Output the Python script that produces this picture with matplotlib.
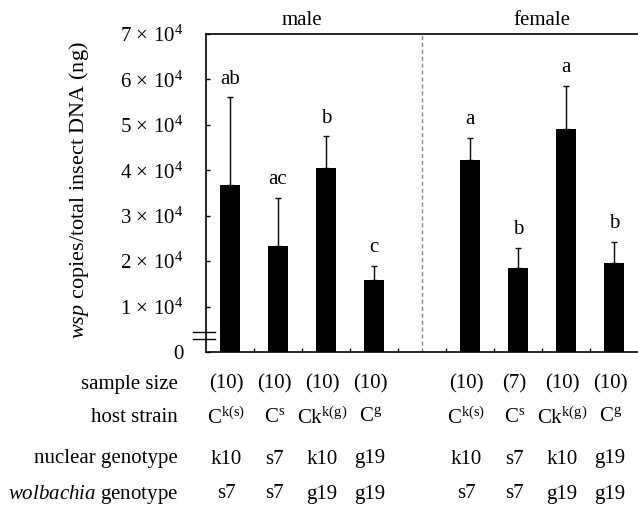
import numpy as np
import matplotlib
matplotlib.use('Agg')
import matplotlib.pyplot as plt
import matplotlib.transforms as mtransforms

plt.rcParams['font.family'] = 'Liberation Serif'
plt.rcParams['mathtext.fontset'] = 'custom'
plt.rcParams['mathtext.rm'] = 'Liberation Serif'
plt.rcParams['mathtext.it'] = 'Liberation Serif:italic'

# data
pos = [0, 1, 2, 3, 5, 6, 7, 8]
means = [36800, 23400, 40400, 15800, 42300, 18400, 49100, 19700]
upper = [56100, 34000, 47500, 19000, 47200, 23000, 58600, 24300]
letters = ['ab', 'ac', 'b', 'c', 'a', 'b', 'a', 'b']

sample_size = ['(10)', '(10)', '(10)', '(10)', '(10)', '(7)', '(10)', '(10)']
host_strain = [r'C$^{\mathrm{k(s)}}$', r'C$^{\mathrm{s}}$', r'Ck$^{\mathrm{k(g)}}$', r'C$^{\mathrm{g}}$'] * 2
nuclear = ['k10', 's7', 'k10', 'g19'] * 2
wolb = ['s7', 's7', 'g19', 'g19'] * 2
row_names = ['sample size', 'host strain', 'nuclear genotype', r'$\it{wolbachia}$ genotype']

yticks = [0, 1e4, 2e4, 3e4, 4e4, 5e4, 6e4, 7e4]
yticklabels = ['0'] + [r'$%d\,\times\,10^{4}$' % k for k in range(1, 8)]

fig = plt.figure(figsize=(6.38, 5.08), dpi=100)
ax = fig.add_axes([206/638, 1-352/508, 432/638, 318/508])

err = np.array(upper) - np.array(means)
ax.bar(pos, means, width=0.42, color='black', zorder=3)
ax.errorbar(pos, means, yerr=[np.zeros(len(err)), err], fmt='none', ecolor='black',
            elinewidth=1, capsize=2.5, capthick=1, zorder=2)

for x, u, l in zip(pos, upper, letters):
    ax.annotate(l, (x, u), xytext=(0, 6), textcoords='offset points',
                ha='center', va='bottom', fontsize=15)

ax.set_xlim(-0.5, 8.5)
ax.set_ylim(0, 70000)
ax.axvline(4, color='#888888', ls=(0, (3, 2)), lw=1)

ax.set_yticks(yticks)
ax.set_yticklabels(yticklabels, fontsize=15)
ax.set_xticks(np.arange(0.5, 8, 1))
ax.set_xticklabels([])
ax.tick_params(axis='both', direction='in', length=3, width=1)
ax.tick_params(axis='y', pad=16)
ax.spines['right'].set_visible(False)
for s in ['left', 'top', 'bottom']:
    ax.spines[s].set_linewidth(1.2)

ax.set_ylabel(r'$\it{wsp}$ copies/total insect DNA (ng)', fontsize=16)
ax.yaxis.set_label_coords((91 - 206) / 432, (352 - 190) / 318)

# axis break
for yb in [2900, 4400]:
    ax.plot([-0.03, 0.021], [yb, yb], color='black', lw=1,
            transform=mtransforms.blended_transform_factory(ax.transAxes, ax.transData),
            clip_on=False, zorder=5)

ax.text(1.5, 1.044, 'male', transform=mtransforms.blended_transform_factory(ax.transData, ax.transAxes),
        ha='center', va='center', fontsize=15)
ax.text(6.5, 1.044, 'female', transform=mtransforms.blended_transform_factory(ax.transData, ax.transAxes),
        ha='center', va='center', fontsize=15)

# table below the axis
row_y = [1-384/508, 1-418/508, 1-459/508, 1-494/508]
trans = mtransforms.blended_transform_factory(ax.transData, fig.transFigure)
for ry, name, vals in zip(row_y, row_names, [sample_size, host_strain, nuclear, wolb]):
    fig.text(178/638, ry, name, ha='right', va='center', fontsize=15)
    for x, v in zip(pos, vals):
        ax.text(x - 0.08, ry, v, transform=trans, ha='center', va='center', fontsize=15)

fig.savefig('out.png', dpi=100)
